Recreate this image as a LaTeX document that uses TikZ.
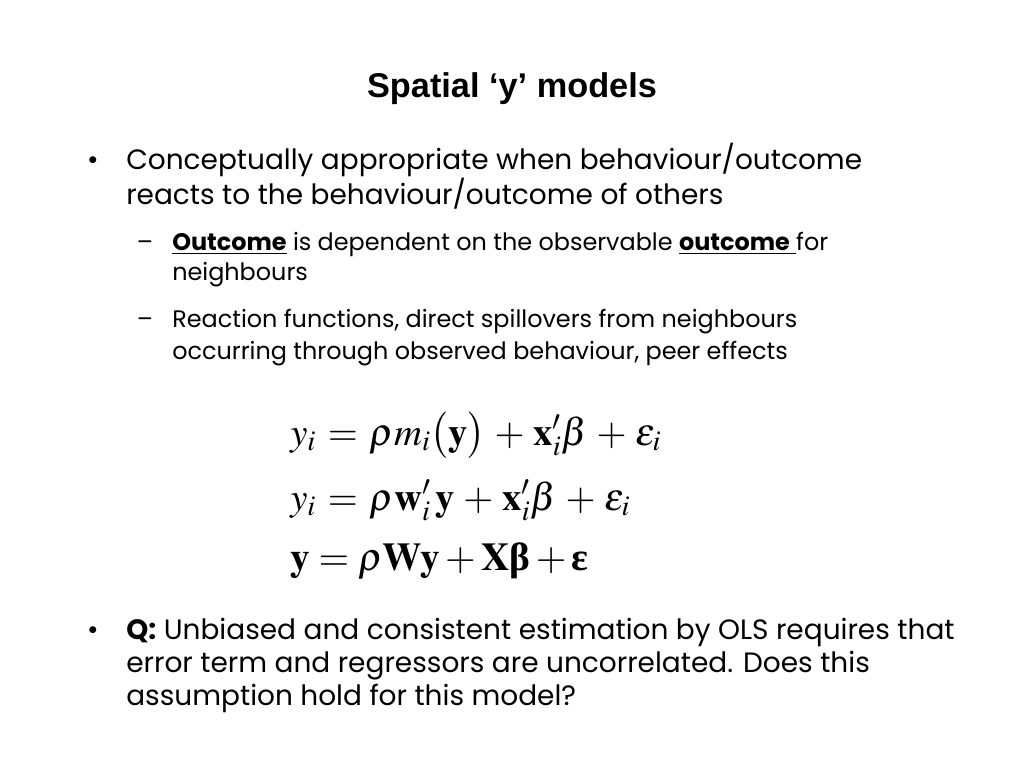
\documentclass[tikz,border=0pt]{standalone}
\usepackage{mathptmx}
\usepackage[no-math]{fontspec}
\usepackage{amsmath}
\setmainfont{Poppins}
\newfontfamily\titlefont{Liberation Sans}
\newfontfamily\serifgreek{Liberation Serif}
\usetikzlibrary{positioning}

\newcommand{\bgreek}[1]{\text{\serifgreek\bfseries #1}}
\newcommand{\widemath}{\thickmuskip=5.5mu\medmuskip=4.2mu}

\begin{document}
\begin{tikzpicture}[x=0.025cm,y=-0.025cm]
    \tikzstyle{line}=[anchor=base west,inner sep=0pt]
    \tikzstyle{main}=[line,font=\fontsize{19.9}{23.5}\selectfont]
    \tikzstyle{sub}=[line,font=\fontsize{17}{20}\selectfont]
    \tikzstyle{eqn}=[line,font=\fontsize{27.5}{30}\selectfont\widemath]
    \useasboundingbox (0,0) rectangle (1024,768);

    % title
    \node[anchor=base,inner sep=0pt,font=\titlefont\bfseries\fontsize{24.4}{28}\selectfont] (title) at (512,98) {Spatial ‘y’ models};

    % first bullet
    \node[main,anchor=base] (dot1) at (93,170) {•};
    \node[main] (c1) at (126,170) {Conceptually appropriate when behaviour/outcome};
    \node[main] (c2) at (126,204) {reacts to the behaviour/outcome of others};

    \node[sub,anchor=base] (dash1) at (145,250) {–};
    \node[sub] (o1) at (172,250) {\underline{\textbf{Outcome}} is dependent on the observable \underline{\textbf{outcome}\ }for};
    \node[sub] (o2) at (172,280) {neighbours};

    \node[sub,anchor=base] (dash2) at (145,327) {–};
    \node[sub] (r1) at (172,327) {Reaction functions, direct spillovers from neighbours};
    \node[sub] (r2) at (172,359) {occurring through observed behaviour, peer effects};

    % equations
    \node[eqn] (eq1) at (290,445) {$y_i = \rho m_i\bigl(\mathbf{y}\bigr) + \mathbf{x}^{\prime}_{i}\beta + \varepsilon_i$};
    \node[eqn] (eq2) at (290,510) {$y_i = \rho\mathbf{w}^{\prime}_{i}\,\mathbf{y} + \mathbf{x}^{\prime}_{i}\beta + \varepsilon_i$};
    \node[eqn,font=\fontsize{28}{30}\selectfont] (eq3) at (290,570) {$\mathbf{y} = \rho\mathbf{W}\mathbf{y} + \mathbf{X}\bgreek{β} + \bgreek{ε}$};

    % question
    \node[main,anchor=base] (dot2) at (93,639) {•};
    \node[main] (q1) at (126,639) {\textbf{Q:} Unbiased and consistent estimation by OLS requires that};
    \node[main] (q2) at (126,672) {error term and regressors are uncorrelated. Does this};
    \node[main] (q3) at (126,705) {assumption hold for this model?};
\end{tikzpicture}
\end{document}
